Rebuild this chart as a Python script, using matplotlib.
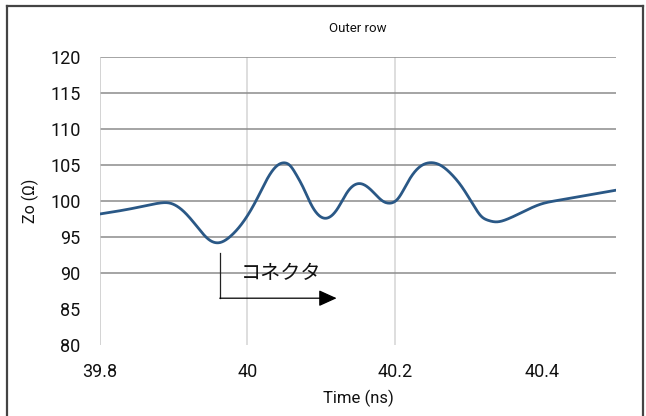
import matplotlib
matplotlib.use("Agg")
import matplotlib.pyplot as plt
from matplotlib.lines import Line2D
import numpy as np

plt.rcParams['font.family'] = ['Roboto', 'Noto Sans CJK JP', 'DejaVu Sans']

# Data
time_ns = [39.80, 39.83, 39.86, 39.88, 39.895, 39.913, 39.932, 39.947, 39.961, 39.977,
           39.995, 40.013, 40.027, 40.038, 40.049, 40.058, 40.066, 40.076, 40.086, 40.095,
           40.106, 40.122, 40.136, 40.154, 40.170, 40.185, 40.192, 40.204, 40.218, 40.231,
           40.246, 40.263, 40.276, 40.290, 40.299, 40.308, 40.317, 40.327, 40.337, 40.353,
           40.376, 40.399, 40.422, 40.444, 40.467, 40.50]
zo_ohm = [98.2, 98.7, 99.3, 99.7, 99.7, 98.6, 96.4, 94.7, 94.2, 95.1,
          97.2, 100.3, 103.1, 104.7, 105.3, 104.9, 103.7, 101.8, 99.6, 98.2,
          97.6, 98.9, 101.3, 102.4, 101.3, 99.9, 99.7, 100.3, 102.7, 104.5,
          105.3, 104.9, 103.8, 102.1, 100.7, 99.2, 97.9, 97.3, 97.1, 97.5,
          98.6, 99.6, 100.1, 100.5, 100.9, 101.5]
y_ticks = [80, 85, 90, 95, 100, 105, 110, 115, 120]
y_grid = [90, 95, 100, 105, 110, 115, 120]
x_ticks = [39.8, 40.0, 40.2, 40.4]
x_tick_labels = ["39.8", "40", "40.2", "40.4"]
x_grid = [40.0, 40.2]

W, H = 646, 416
fig = plt.figure(figsize=(W / 100, H / 100), dpi=100)
ax = fig.add_axes([100 / W, (H - 345) / H, (616 - 100) / W, (345 - 57) / H])


def natural_spline(x, y, n=1500):
    x = np.asarray(x, float)
    y = np.asarray(y, float)
    m = len(x)
    h = np.diff(x)
    A = np.zeros((m, m))
    b = np.zeros(m)
    A[0, 0] = 1
    A[-1, -1] = 1
    for i in range(1, m - 1):
        A[i, i - 1] = h[i - 1]
        A[i, i] = 2 * (h[i - 1] + h[i])
        A[i, i + 1] = h[i]
        b[i] = 6 * ((y[i + 1] - y[i]) / h[i] - (y[i] - y[i - 1]) / h[i - 1])
    M = np.linalg.solve(A, b)
    xs = np.linspace(x[0], x[-1], n)
    idx = np.clip(np.searchsorted(x, xs) - 1, 0, m - 2)
    x0, x1 = x[idx], x[idx + 1]
    hh = x1 - x0
    a = (x1 - xs) / hh
    c = (xs - x0) / hh
    ys = (a * y[idx] + c * y[idx + 1] +
          ((a ** 3 - a) * M[idx] + (c ** 3 - c) * M[idx + 1]) * hh ** 2 / 6)
    return xs, ys


sx, sy = natural_spline(time_ns, zo_ohm)

for g in y_grid:
    ax.axhline(g, color='#8c8c8c', lw=1.1, zorder=1)
for g in x_grid:
    ax.axvline(g, color='#d4d4d4', lw=1.1, zorder=0)
ax.axvline(39.8, color='#c8c8c8', lw=1.1, zorder=1)

ax.plot(sx, sy, color='#2a5886', lw=2.0, zorder=3, solid_capstyle='round')

ax.set_xlim(39.8, 40.5)
ax.set_ylim(80, 120)
ax.set_yticks(y_ticks)
ax.set_xticks(x_ticks)
ax.set_xticklabels(x_tick_labels)
for s in ax.spines.values():
    s.set_visible(False)
ax.tick_params(axis='both', length=0, labelsize=13, colors='#111111')
ax.tick_params(axis='y', pad=14)
ax.tick_params(axis='x', pad=13)

ax.set_xlabel("Time (ns)", fontsize=12, labelpad=6, color='#111111')
ax.set_ylabel("Zo (Ω)", fontsize=11.5, labelpad=8, color='#111111')
ax.set_title("Outer row", fontsize=9.5, pad=18, color='#111111')

# annotation: connector
ax.plot([39.9625, 39.9625], [92.8, 86.5], color='#222222', lw=0.9, zorder=4)
ax.annotate("", xy=(40.121, 86.5), xytext=(39.9625, 86.5),
            arrowprops=dict(arrowstyle='-|>,head_length=1.1,head_width=0.5',
                            color='black', lw=0.9, shrinkA=0, shrinkB=0), zorder=4)
ax.text(40.046, 89.9, "コネクタ", fontsize=14.5, ha='center', va='center',
        family=['Noto Sans CJK JP', 'DejaVu Sans'], color='#111111', zorder=5)

# outer frame (figure coords)
fc = '#444444'
fig.add_artist(Line2D([7 / W, 7 / W], [0, 1 - 6 / H], color=fc, lw=1.6))
fig.add_artist(Line2D([643 / W, 643 / W], [0, 1 - 6 / H], color=fc, lw=1.6))
fig.add_artist(Line2D([7 / W, 643 / W], [1 - 6 / H, 1 - 6 / H], color=fc, lw=1.6))

fig.savefig("out.png", dpi=100)
